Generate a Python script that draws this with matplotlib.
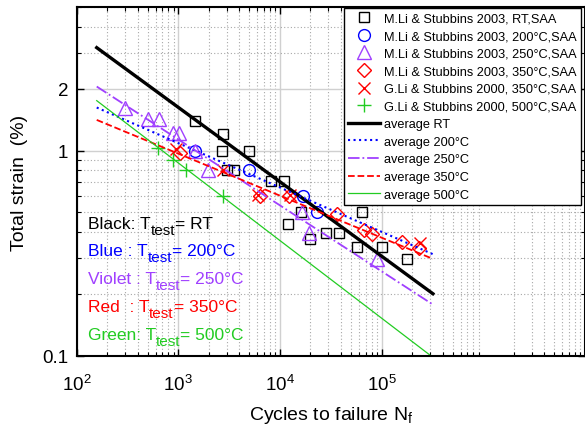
import matplotlib
matplotlib.use("Agg")
from matplotlib import pyplot as plt
from matplotlib.ticker import LogLocator, NullFormatter, FixedLocator, FixedFormatter

plt.rcParams['font.family'] = ['Liberation Sans', 'DejaVu Sans']
plt.rcParams['mathtext.fontset'] = 'custom'
plt.rcParams['mathtext.rm'] = 'Liberation Sans'
plt.rcParams['mathtext.it'] = 'Liberation Sans:italic'

# data (cycles, strain %)
rt_n = [1460, 2780, 2720, 4970, 3020, 3540, 8170, 10960, 16100, 12000,
        19800, 28400, 38100, 64100, 57300, 100900, 177800]
rt_e = [1.40, 1.21, 1.00, 1.00, 0.80, 0.80, 0.713, 0.713, 0.502, 0.439,
        0.370, 0.396, 0.396, 0.502, 0.338, 0.338, 0.296]

t200_n = [1460, 4970, 16900, 23200]
t200_e = [1.00, 0.80, 0.60, 0.50]

t250_n = [300, 508, 647, 895, 1018, 1460, 1977, 16500, 19300, 90100]
t250_e = [1.62, 1.42, 1.42, 1.22, 1.22, 1.00, 0.80, 0.50, 0.396, 0.297]

t350_n = [1042, 6370, 12300, 36200, 67100, 80500, 158800, 235000]
t350_e = [0.978, 0.602, 0.598, 0.491, 0.411, 0.392, 0.358, 0.335]

g350_n = [950, 2760, 6090, 12600, 239000]
g350_e = [1.02, 0.80, 0.609, 0.609, 0.354]

g500_n = [637, 895, 1194, 2780]
g500_e = [1.035, 0.90, 0.80, 0.598]

# average fit lines (end points)
fit_n = [158, 320000]
avg_rt = [3.17, 0.201]
avg_200 = [1.62, 0.313]
avg_250 = [2.05, 0.178]
avg_350 = [1.41, 0.297]
avg_500 = [1.75, 0.0985]

violet = '#a040ff'
green = '#22cc22'

fig = plt.figure(figsize=(5.85, 4.39), dpi=100)
ax = fig.add_axes([0.1308, 0.1868, 0.869, 0.795])

ms_kw = dict(linestyle='none', markerfacecolor='none', markeredgewidth=1.0)
ax.plot(rt_n, rt_e, marker='s', color='black', markersize=7.5,
        label='M.Li & Stubbins 2003, RT,SAA', **ms_kw)
ax.plot(t200_n, t200_e, marker='o', color='#0000ff', markersize=8.5,
        label='M.Li & Stubbins 2003, 200°C,SAA', **ms_kw)
ax.plot(t250_n, t250_e, marker='^', color=violet, markersize=9.5,
        label='M.Li & Stubbins 2003, 250°C,SAA', **ms_kw)
ax.plot(t350_n, t350_e, marker='D', color='#ff0000', markersize=7.5,
        label='M.Li & Stubbins 2003, 350°C,SAA', **ms_kw)
ax.plot(g350_n, g350_e, marker='x', color='#ff0000', markersize=8,
        label='G.Li & Stubbins 2000, 350°C,SAA', **ms_kw)
ax.plot(g500_n, g500_e, marker='+', color=green, markersize=10,
        label='G.Li & Stubbins 2000, 500°C,SAA', **ms_kw)

ax.plot(fit_n, avg_rt, '-', color='black', lw=2.4, label='average RT')
ax.plot(fit_n, avg_200, ':', color='#0000ff', lw=1.5, label='average 200°C')
ax.plot(fit_n, avg_250, '-.', color=violet, lw=1.3, label='average 250°C')
ax.plot(fit_n, avg_350, '--', color='#ff0000', lw=1.3, label='average 350°C')
ax.plot(fit_n, avg_500, '-', color=green, lw=0.9, label='average 500°C')

ax.set_xscale('log')
ax.set_yscale('log')
ax.set_xlim(1e2, 1e7)
ax.set_ylim(0.1, 5)

ax.xaxis.set_major_locator(FixedLocator([1e2, 1e3, 1e4, 1e5]))
ax.xaxis.set_major_formatter(FixedFormatter(['$10^2$', '$10^3$', '$10^4$', '$10^5$']))
ax.xaxis.set_minor_locator(LogLocator(base=10, subs=range(2, 10), numticks=20))
ax.xaxis.set_minor_formatter(NullFormatter())
ax.yaxis.set_major_locator(FixedLocator([0.1, 1, 2]))
ax.yaxis.set_major_formatter(FixedFormatter(['0.1', '1', '2']))
ax.yaxis.set_minor_locator(LogLocator(base=10, subs=range(2, 10), numticks=20))
ax.yaxis.set_minor_formatter(NullFormatter())

ax.tick_params(which='both', direction='in', top=True, right=True, colors='black')
ax.tick_params(which='major', length=5, width=1, labelsize=13.5, pad=6)
ax.tick_params(axis='x', which='major', pad=13)
ax.tick_params(which='minor', length=3, width=0.8)
ax.grid(True, which='major', color='#d0d0d0', lw=1.0, ls='-')
ax.grid(True, which='minor', color='#a8a8a8', lw=0.8, ls=(0, (1, 2)))
ax.set_axisbelow(True)
for s in ax.spines.values():
    s.set_linewidth(1.5)

ax.set_xlabel('Cycles to failure N$_\\mathrm{f}$', fontsize=14, labelpad=7)
ax.set_ylabel('Total strain  (%)', fontsize=14, labelpad=10)

# colour key written in the plot, with a low MATLAB-style subscript
notes = [('Black: T', '= RT', 'black', 0.367),
         ('Blue : T', '= 200°C', '#0000ff', 0.289),
         ('Violet : T', '= 250°C', violet, 0.209),
         ('Red  : T', '= 350°C', '#ff0000', 0.129),
         ('Green: T', '= 500°C', green, 0.049)]
for head, tail, col, yy in notes:
    t1 = ax.text(0.022, yy, head, color=col, fontsize=12.5,
                 transform=ax.transAxes, va='baseline', ha='left')
    t2 = ax.annotate('test', xy=(1, 0), xycoords=t1, xytext=(0, -4.2),
                     textcoords='offset points', color=col, fontsize=11,
                     va='bottom', ha='left')
    ax.annotate(tail, xy=(1, 0), xycoords=(t2, t1), color=col, fontsize=12.5,
                va='bottom', ha='left')

leg = ax.legend(loc='upper left', bbox_to_anchor=(0.526, 0.997), borderaxespad=0,
                fontsize=9.2, frameon=True, fancybox=False, framealpha=1,
                edgecolor='black', handlelength=2.5, handletextpad=0.3,
                labelspacing=0.44, borderpad=0.35)
leg.get_frame().set_linewidth(1.0)

fig.savefig('out.png', dpi=100)
